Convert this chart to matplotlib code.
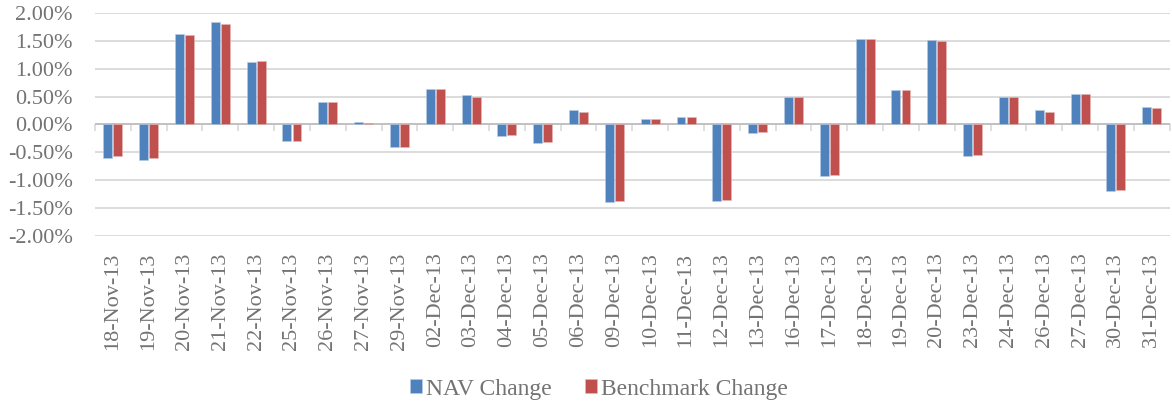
import matplotlib
matplotlib.use("Agg")
import numpy as np
import matplotlib.pyplot as plt
from matplotlib.ticker import PercentFormatter, FixedLocator, NullFormatter

plt.rcParams['font.family'] = ['Liberation Serif', 'DejaVu Serif']
plt.rcParams['axes.unicode_minus'] = False

# daily changes in percent
dates = ["18-Nov-13", "19-Nov-13", "20-Nov-13", "21-Nov-13", "22-Nov-13", "25-Nov-13",
         "26-Nov-13", "27-Nov-13", "29-Nov-13", "02-Dec-13", "03-Dec-13", "04-Dec-13",
         "05-Dec-13", "06-Dec-13", "09-Dec-13", "10-Dec-13", "11-Dec-13", "12-Dec-13",
         "13-Dec-13", "16-Dec-13", "17-Dec-13", "18-Dec-13", "19-Dec-13", "20-Dec-13",
         "23-Dec-13", "24-Dec-13", "26-Dec-13", "27-Dec-13", "30-Dec-13", "31-Dec-13"]
nav_change = [-0.60, -0.63, 1.63, 1.83, 1.12, -0.30, 0.40, 0.035, -0.41, 0.64,
              0.52, -0.21, -0.33, 0.25, -1.39, 0.10, 0.13, -1.38, -0.15, 0.50,
              -0.92, 1.54, 0.62, 1.51, -0.57, 0.49, 0.25, 0.55, -1.20, 0.31]
bench_change = [-0.56, -0.61, 1.61, 1.80, 1.13, -0.29, 0.40, 0.02, -0.40, 0.64,
                0.50, -0.19, -0.31, 0.23, -1.38, 0.10, 0.14, -1.36, -0.14, 0.49,
                -0.91, 1.53, 0.62, 1.49, -0.55, 0.50, 0.23, 0.54, -1.17, 0.30]

text_color = "#737373"
blue = "#4F81BD"
red = "#C0504D"

fig = plt.figure(figsize=(11.72, 4.04), dpi=100)
ax = fig.add_axes([0.081, 0.416, 0.917, 0.552])

x = np.arange(len(dates))
w = 0.25
ax.bar(x - 0.14, nav_change, w, color=blue, edgecolor="#B9CDE5", linewidth=0.4,
       label="NAV Change", zorder=3)
ax.bar(x + 0.14, bench_change, w, color=red, edgecolor="#E6B9B8", linewidth=0.4,
       label="Benchmark Change", zorder=3)

ax.set_xlim(-0.5, len(dates) - 0.5)
ax.set_ylim(-2, 2)
ax.set_yticks(np.arange(-2, 2.01, 0.5))
ax.yaxis.set_major_formatter(PercentFormatter(xmax=100, decimals=2))
ax.grid(axis="y", color="#D9D9D9", linewidth=1.3, zorder=0)
ax.axhline(0, color="#BFBFBF", linewidth=1.3, zorder=2)

for s in ax.spines.values():
    s.set_visible(False)

ax.set_xticks(x)
ax.set_xticklabels(dates, rotation=90)
ax.tick_params(axis="x", length=0, pad=12, labelsize=16, labelcolor=text_color)
ax.tick_params(axis="y", length=0, pad=16, labelsize=16, labelcolor=text_color)

# category boundary ticks hanging below the zero line
sec = ax.secondary_xaxis(0.5)
sec.xaxis.set_ticks_position("bottom")
sec.xaxis.set_major_locator(FixedLocator(np.arange(-0.5, len(dates), 1.0)))
sec.xaxis.set_major_formatter(NullFormatter())
sec.tick_params(axis="x", which="both", direction="out", length=5, width=1.2,
                color="#D9D9D9", bottom=True, top=False,
                labelbottom=False, labeltop=False)
for s in sec.spines.values():
    s.set_visible(False)

fig.legend(loc="center", bbox_to_anchor=(0.511, 0.037), ncol=2, frameon=False,
           fontsize=17, labelcolor=text_color, handlelength=0.5, handleheight=0.5,
           handletextpad=0.17, columnspacing=1.4)

fig.savefig("out.png", dpi=100)
